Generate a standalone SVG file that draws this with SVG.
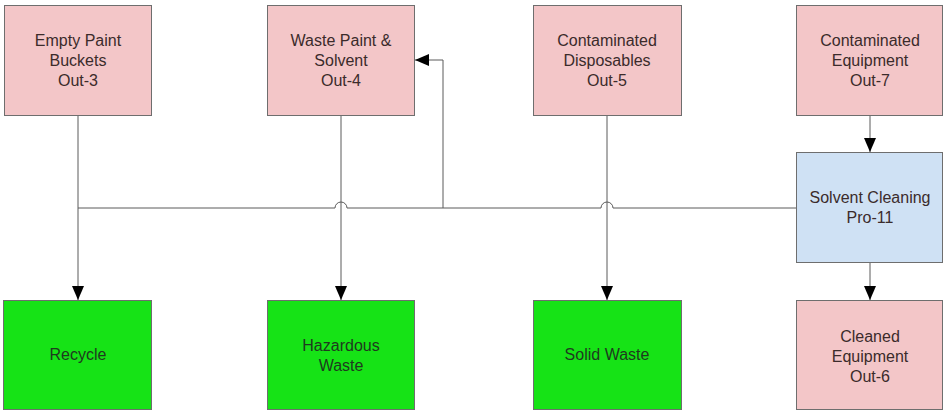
<svg xmlns="http://www.w3.org/2000/svg" width="945" height="413" viewBox="0 0 945 413">
  <style>
    .box { stroke: #6e6e6e; stroke-width: 1; }
    .out { fill: #f3c6c8; }
    .pro { fill: #cfe1f4; }
    .dst { fill: #16e316; }
    .lbl { font-family: "Liberation Sans", Arial, sans-serif; font-size: 16px; fill: #3b2b2b; text-anchor: middle; }
    .dlbl { fill: #1f3a1f; }
    .wire { fill: none; stroke: #5a5a5a; stroke-width: 1; }
  </style>
  <defs>
    <marker id="arrow" viewBox="0 0 14 12" refX="14" refY="6" markerWidth="14" markerHeight="12" markerUnits="userSpaceOnUse" orient="auto">
      <path d="M0,0 L14,6 L0,12 Z" fill="#000"/>
    </marker>
  </defs>
  <rect width="945" height="413" fill="#ffffff"/>

  <g id="connectors">
    <!-- source drops -->
    <path class="wire" d="M78,116 V300" marker-end="url(#arrow)"/>
    <path class="wire" d="M341,116 V300" marker-end="url(#arrow)"/>
    <path class="wire" d="M607,116 V300" marker-end="url(#arrow)"/>
    <path class="wire" d="M870,116 V152" marker-end="url(#arrow)"/>
    <path class="wire" d="M870,263 V300" marker-end="url(#arrow)"/>
    <!-- solvent return line with line hops -->
    <path class="wire" d="M797,208 H613 A6,6 0 0 0 601,208 H347 A6,6 0 0 0 335,208 H78"/>
    <path class="wire" d="M443,208 V60 H415" marker-end="url(#arrow)"/>
  </g>

  <g id="out-3">
    <rect class="box out" x="4.5" y="5.5" width="147" height="110"/>
    <text class="lbl" x="78" y="46">Empty Paint</text>
    <text class="lbl" x="78" y="66">Buckets</text>
    <text class="lbl" x="78" y="86">Out-3</text>
  </g>
  <g id="out-4">
    <rect class="box out" x="267.5" y="5.5" width="147" height="110"/>
    <text class="lbl" x="341" y="46">Waste Paint &amp;</text>
    <text class="lbl" x="341" y="66">Solvent</text>
    <text class="lbl" x="341" y="86">Out-4</text>
  </g>
  <g id="out-5">
    <rect class="box out" x="533.5" y="5.5" width="148" height="110"/>
    <text class="lbl" x="607" y="46">Contaminated</text>
    <text class="lbl" x="607" y="66">Disposables</text>
    <text class="lbl" x="607" y="86">Out-5</text>
  </g>
  <g id="out-7">
    <rect class="box out" x="796.5" y="5.5" width="146" height="110"/>
    <text class="lbl" x="870" y="46">Contaminated</text>
    <text class="lbl" x="870" y="66">Equipment</text>
    <text class="lbl" x="870" y="86">Out-7</text>
  </g>
  <g id="pro-11">
    <rect class="box pro" x="796.5" y="152.5" width="146" height="110"/>
    <text class="lbl" x="870" y="203">Solvent Cleaning</text>
    <text class="lbl" x="870" y="223">Pro-11</text>
  </g>
  <g id="recycle">
    <rect class="box dst" x="3.5" y="300.5" width="148" height="109"/>
    <text class="lbl dlbl" x="78" y="360">Recycle</text>
  </g>
  <g id="hazardous-waste">
    <rect class="box dst" x="267.5" y="300.5" width="147" height="109"/>
    <text class="lbl dlbl" x="341" y="351">Hazardous</text>
    <text class="lbl dlbl" x="341" y="371">Waste</text>
  </g>
  <g id="solid-waste">
    <rect class="box dst" x="533.5" y="300.5" width="148" height="109"/>
    <text class="lbl dlbl" x="607" y="360">Solid Waste</text>
  </g>
  <g id="out-6">
    <rect class="box out" x="796.5" y="300.5" width="146" height="109"/>
    <text class="lbl" x="870" y="342">Cleaned</text>
    <text class="lbl" x="870" y="362">Equipment</text>
    <text class="lbl" x="870" y="382">Out-6</text>
  </g>
</svg>
